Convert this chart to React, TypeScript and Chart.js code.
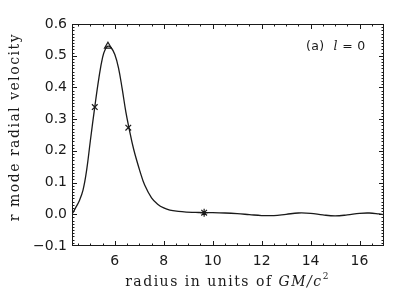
import React, { useEffect, useRef } from 'react';
import { Chart, registerables } from 'chart.js';

Chart.register(...registerables);

// radius in units of GM/c^2
const radius = [4.25, 4.4, 4.55, 4.7, 4.85, 5.0, 5.18, 5.35, 5.5, 5.62, 5.72, 5.85, 6.0, 6.15, 6.3, 6.45, 6.58, 6.77, 7.03, 7.22, 7.5, 7.75, 8.0, 8.25, 8.6, 8.93, 9.3, 9.65, 10.0, 10.5, 11.0, 11.5, 12.0, 12.5, 13.0, 13.5, 14.0, 14.5, 15.0, 15.5, 16.0, 16.4, 16.8, 17.0];
// r mode radial velocity
const velocity = [0.0, 0.021, 0.043, 0.076, 0.14, 0.232, 0.338, 0.43, 0.495, 0.522, 0.53, 0.525, 0.504, 0.462, 0.396, 0.323, 0.272, 0.205, 0.135, 0.092, 0.052, 0.032, 0.02, 0.013, 0.009, 0.007, 0.006, 0.005, 0.005, 0.004, 0.002, -0.001, -0.004, -0.004, 0.0, 0.004, 0.003, -0.002, -0.005, -0.002, 0.003, 0.004, 0.001, -0.001];

// marked points
const markerRadius = [5.18, 5.72, 6.55, 9.65];
const markerVelocity = [0.338, 0.53, 0.273, 0.005];
const markerStyles = ['crossRot', 'triangle', 'crossRot', 'star'];

const xTicks = [6, 8, 10, 12, 14, 16];
const yTicks = [-0.1, 0, 0.1, 0.2, 0.3, 0.4, 0.5, 0.6];

const yTitle = 'r mode radial velocity';
const xTitleA = 'radius in units of ';
const xTitleB = 'GM/c';
const xTitleC = '2';
const panelLabelA = '(a) ';
const panelLabelB = 'l';
const panelLabelC = ' = 0';

const INK = '#1a1a1a';
const SERIF = '"DejaVu Serif"';
const SANS = '"DejaVu Sans"';

const framePlugin = {
  id: 'frame',
  afterDatasetsDraw(chart: any) {
    const { ctx, chartArea: a, scales } = chart;
    const x = scales.x;
    const y = scales.y;
    ctx.save();
    ctx.strokeStyle = INK;
    ctx.lineWidth = 1;
    ctx.strokeRect(a.left + 0.5, a.top + 0.5, a.right - a.left - 1, a.bottom - a.top - 1);
    ctx.beginPath();
    for (let i = 9; i <= 34; i++) {
      const v = i / 2;
      const px = Math.round(x.getPixelForValue(v)) + 0.5;
      if (px <= a.left + 1 || px >= a.right - 1) continue;
      const len = i % 4 === 0 ? 5 : 2.5;
      ctx.moveTo(px, a.bottom);
      ctx.lineTo(px, a.bottom - len);
      ctx.moveTo(px, a.top);
      ctx.lineTo(px, a.top + len);
    }
    for (let i = -10; i <= 60; i++) {
      const v = i / 100;
      const py = Math.round(y.getPixelForValue(v)) + 0.5;
      if (py <= a.top + 1 || py >= a.bottom - 1) continue;
      const len = i % 10 === 0 ? 5 : 2.5;
      ctx.moveTo(a.left, py);
      ctx.lineTo(a.left + len, py);
      ctx.moveTo(a.right, py);
      ctx.lineTo(a.right - len, py);
    }
    ctx.stroke();

    // y title
    ctx.fillStyle = INK;
    ctx.font = `14px ${SERIF}`;
    (ctx as any).letterSpacing = '1.5px';
    ctx.textAlign = 'center';
    ctx.textBaseline = 'middle';
    ctx.save();
    ctx.translate(15, 127);
    ctx.rotate(-Math.PI / 2);
    ctx.fillText(yTitle, 0, 0);
    ctx.restore();

    // x title
    ctx.textAlign = 'left';
    ctx.textBaseline = 'alphabetic';
    const fa = `14px ${SERIF}`;
    const fb = `italic 14px ${SERIF}`;
    const fc = `9px ${SERIF}`;
    ctx.font = fa;
    const wa = ctx.measureText(xTitleA).width;
    ctx.font = fb;
    const wb = ctx.measureText(xTitleB).width;
    ctx.font = fc;
    const wc = ctx.measureText(xTitleC).width;
    const total = wa + wb + wc + 1;
    let cx = (a.left + a.right) / 2 - total / 2;
    const base = 286;
    ctx.font = fa;
    ctx.fillText(xTitleA, cx, base);
    cx += wa;
    ctx.font = fb;
    ctx.fillText(xTitleB, cx, base);
    cx += wb;
    ctx.font = fc;
    ctx.fillText(xTitleC, cx, base - 7);

    // panel label
    (ctx as any).letterSpacing = '0.3px';
    const la = `12.5px ${SANS}`;
    const lb = `italic 12.5px ${SERIF}`;
    let lx = 306;
    const ly = 50;
    ctx.font = la;
    ctx.fillText(panelLabelA, lx, ly);
    lx += ctx.measureText(panelLabelA).width + 5;
    ctx.font = lb;
    ctx.fillText(panelLabelB, lx, ly);
    lx += ctx.measureText(panelLabelB).width;
    ctx.font = la;
    ctx.fillText(panelLabelC, lx, ly);

    ctx.restore();
  },
};

export default function App() {
  const ref = useRef<HTMLCanvasElement | null>(null);

  useEffect(() => {
    if (!ref.current) return;
    const chart = new Chart(ref.current, {
      type: 'scatter',
      data: {
        datasets: [
          {
            data: radius.map((r, i) => ({ x: r, y: velocity[i] })),
            showLine: true,
            borderColor: INK,
            borderWidth: 1.3,
            pointRadius: 0,
            tension: 0.4,
            fill: false,
          } as any,
          {
            data: markerRadius.map((r, i) => ({ x: r, y: markerVelocity[i] })),
            showLine: false,
            pointStyle: markerStyles as any,
            pointRadius: 4,
            pointBorderColor: INK,
            pointBackgroundColor: 'rgba(0,0,0,0)',
            pointBorderWidth: 1.2,
          } as any,
        ],
      },
      options: {
        responsive: false,
        animation: false,
        layout: { padding: { top: 24, right: 23, left: 0, bottom: 0 } },
        plugins: { legend: { display: false }, tooltip: { enabled: false } },
        scales: {
          x: {
            type: 'linear',
            min: 4.25,
            max: 17,
            grid: { display: false, drawTicks: false, tickLength: 0 },
            border: { display: false },
            afterBuildTicks: (s: any) => {
              s.ticks = xTicks.map((v) => ({ value: v }));
            },
            afterFit: (s: any) => {
              s.height = 45;
            },
            ticks: {
              color: INK,
              font: { family: SANS, size: 14 },
              padding: 7,
              maxRotation: 0,
              callback: (v: any) => String(v),
            },
          },
          y: {
            type: 'linear',
            min: -0.1,
            max: 0.6,
            grid: { display: false, drawTicks: false, tickLength: 0 },
            border: { display: false },
            afterBuildTicks: (s: any) => {
              s.ticks = yTicks.map((v) => ({ value: v }));
            },
            afterFit: (s: any) => {
              s.width = 72;
            },
            ticks: {
              color: INK,
              font: { family: SANS, size: 14 },
              padding: 5,
              callback: (v: any) => {
                const n = Number(v);
                const s = Math.abs(n).toFixed(1);
                return n < -1e-9 ? '\u2212' + s : s;
              },
            },
          },
        },
      },
      plugins: [framePlugin],
    });
    return () => chart.destroy();
  }, []);

  return (
    <div style={{ position: 'absolute', left: 0, top: 0, width: 407, height: 291, background: '#fff' }}>
      <canvas ref={ref} width={407} height={291} />
    </div>
  );
}
